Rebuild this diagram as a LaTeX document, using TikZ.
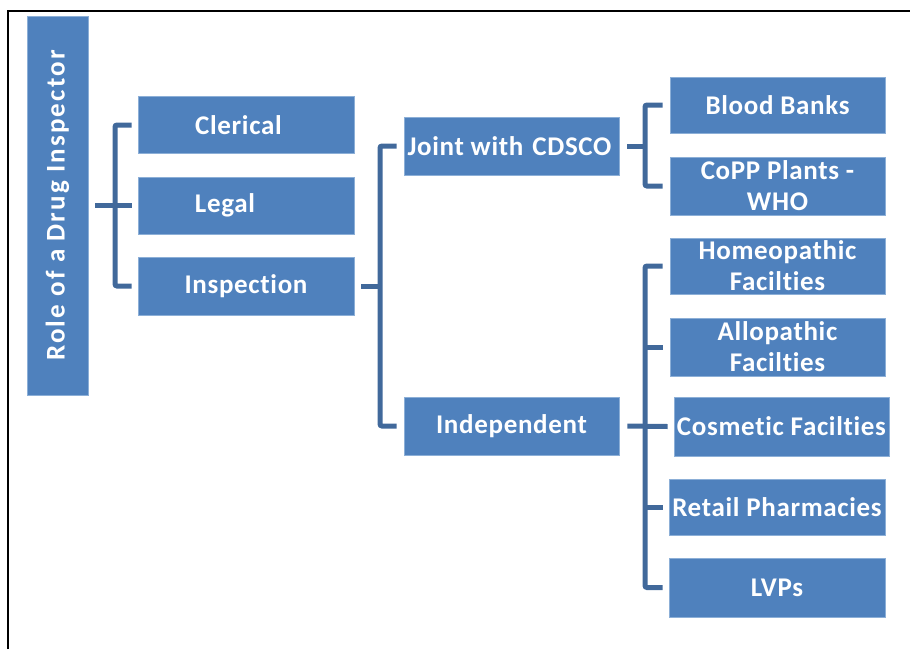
\documentclass[tikz,border=0pt]{standalone}
\usepackage{fontspec}
\setmainfont[Ligatures=NoCommon, LetterSpace=2.5]{Carlito}
\newfontfamily\titlefont[Ligatures=NoCommon, LetterSpace=8]{Carlito}
\definecolor{boxblue}{RGB}{79,129,189}
\definecolor{boxedge}{RGB}{140,175,215}
\definecolor{connblue}{RGB}{65,105,155}
\begin{document}
\begin{tikzpicture}[x=1pt,y=-1pt,
  box/.style={rectangle, fill=boxblue, draw=boxedge, line width=0.6pt,
    text=white, font=\fontsize{27}{31}\selectfont\bfseries, align=center,
    inner sep=0pt, minimum width=215pt, minimum height=57pt, anchor=center},
  conn/.style={draw=connblue, line width=5pt, rounded corners=2pt}]
\useasboundingbox (0,0) rectangle (910,649);
\draw[line width=1.6pt] (8,649) -- (8,11) -- (910,11);

% nodes
\node[box, rotate=90, minimum width=379pt, minimum height=61pt,
  font=\titlefont\fontsize{27}{31}\selectfont\bfseries] (title) at (57.5,205.5) {Role of a Drug Inspector};
\node[box, minimum width=216pt] (clerical) at (246,125) {Clerical\hspace{15pt}};
\node[box, minimum width=216pt] (legal) at (246,205.5) {Legal\hspace{42pt}};
\node[box, minimum width=216pt, minimum height=58pt] (inspection) at (246,286) {Inspection};
\node[box, minimum height=58pt] (joint) at (511.5,146) {Joint with\hspace{9pt}CDSCO\hspace{4pt}};
\node[box, minimum height=58pt] (indep) at (511.5,426) {Independent};
\node[box, minimum height=56pt] (blood) at (777.5,105) {Blood Banks};
\node[box, minimum height=58pt] (copp) at (777.5,186) {CoPP Plants -\\WHO};
\node[box, minimum height=56pt] (homeo) at (777.5,266) {Homeopathic\\Facilties};
\node[box, minimum height=58pt] (allo) at (777.5,347) {Allopathic\\Facilties};
\node[box, minimum height=59pt] (cosm) at (781.5,426.5) {Cosmetic Facilties};
\node[box, minimum width=216pt, minimum height=56pt] (retail) at (777,507) {Retail Pharmacies};
\node[box, minimum width=216pt, minimum height=59pt] (lvps) at (777,587.5) {LVPs};

% bracket x positions
\coordinate (b1) at (115,0);
\coordinate (b2) at (380,0);
\coordinate (b3) at (645,0);

% connectors
\draw[conn] ([xshift=7pt]title.south |- legal.west) -- ([xshift=-6pt]legal.west);
\draw[conn] ([xshift=-6pt]clerical.west) -- (b1 |- clerical.west) -- (b1 |- inspection.west) -- ([xshift=-6pt]inspection.west);

\draw[conn] ([xshift=7pt]inspection.east) -- (b2 |- inspection.east);
\draw[conn] ([xshift=-7pt]joint.west) -- (b2 |- joint.west) -- (b2 |- indep.west) -- ([xshift=-7pt]indep.west);

\draw[conn] ([xshift=8pt]joint.east) -- (b3 |- joint.east);
\draw[conn] ([xshift=-7pt]blood.west) -- (b3 |- blood.west) -- (b3 |- copp.west) -- ([xshift=-7pt]copp.west);

\draw[conn] ([xshift=8pt]indep.east) -- ([xshift=-6pt]cosm.west);
\draw[conn] ([xshift=-7pt]homeo.west) -- (b3 |- homeo.west) -- (b3 |- lvps.west) -- ([xshift=-6pt]lvps.west);
\draw[conn] (b3 |- allo.west) -- ([xshift=-7pt]allo.west);
\draw[conn] (b3 |- retail.west) -- ([xshift=-6pt]retail.west);
\end{tikzpicture}
\end{document}
